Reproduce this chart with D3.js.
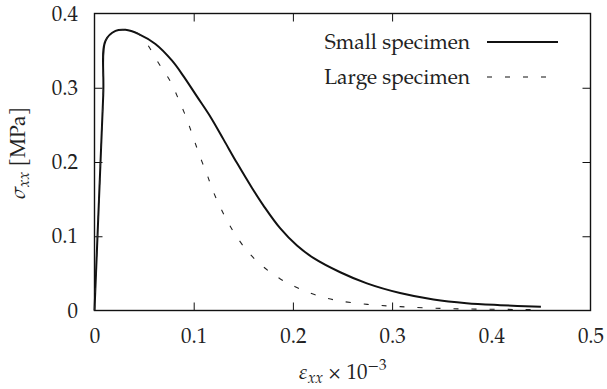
<!DOCTYPE html>
<html>
<head>
<meta charset="utf-8">
<script src="https://cdn.jsdelivr.net/npm/d3@7"></script>
<style>
  html, body { margin: 0; padding: 0; background: #fff; }
  svg { display: block; }
</style>
</head>
<body>
<div id="chart"></div>
<script>
// Strain (x 10^-3) and stress (MPa) samples for each specimen
const smallStrain = [0, 0.0088, 0.0111, 0.0212, 0.0312, 0.0446, 0.0614, 0.0782, 0.09, 0.1034, 0.1168, 0.1303, 0.1437, 0.1588, 0.1705, 0.1873, 0.2041, 0.221, 0.2477, 0.2746, 0.308, 0.3417, 0.375, 0.409, 0.45];
const smallStress = [0, 0.29, 0.3633, 0.3765, 0.378, 0.3723, 0.3589, 0.3364, 0.315, 0.288, 0.261, 0.2298, 0.1985, 0.165, 0.141, 0.1105, 0.0875, 0.0705, 0.0515, 0.0365, 0.0235, 0.0148, 0.0098, 0.0072, 0.005];

const largeStrain = [0, 0.0088, 0.0111, 0.0212, 0.0312, 0.0446, 0.053, 0.0647, 0.0765, 0.085, 0.0927, 0.0994, 0.106, 0.1135, 0.1201, 0.1336, 0.1453, 0.157, 0.1705, 0.1873, 0.204, 0.221, 0.2427, 0.275, 0.308, 0.358, 0.45];
const largeStress = [0, 0.29, 0.3633, 0.3765, 0.378, 0.3723, 0.359, 0.333, 0.3085, 0.2836, 0.259, 0.2338, 0.2085, 0.183, 0.159, 0.121, 0.0955, 0.0755, 0.0585, 0.0425, 0.031, 0.0218, 0.014, 0.0083, 0.0052, 0.0025, 0.0012];

const seriesNames = ["Small specimen", "Large specimen"];
const xTicks = [0, 0.1, 0.2, 0.3, 0.4, 0.5];
const yTicks = [0, 0.1, 0.2, 0.3, 0.4];

const W = 607, H = 389;
const plot = { left: 94.5, right: 590.5, top: 13.5, bottom: 310.5 };
const FONT = '"TeX Gyre Pagella", "URW Palladio L", "P052", "Palatino Linotype", Palatino, "Book Antiqua", "Noto Serif", "Liberation Serif", Tinos, "Times New Roman", "DejaVu Serif", "FreeSerif", serif';

const svg = d3.select("#chart").append("svg").attr("width", W).attr("height", H)
  .style("font-family", FONT);

const x = d3.scaleLinear().domain([0, 0.5]).range([plot.left, plot.right]);
const y = d3.scaleLinear().domain([0, 0.4]).range([plot.bottom, plot.top]);

const fmt = d => d === 0 ? "0" : d3.format(".1f")(d);
const tickLen = 8;
const fs = 21;

// Inward ticks on all four sides
const axisGroups = [
  svg.append("g").attr("transform", `translate(0,${plot.bottom})`).call(d3.axisBottom(x).tickValues(xTicks).tickFormat(fmt).tickSizeInner(-tickLen).tickSizeOuter(0).tickPadding(17.5)),
  svg.append("g").attr("transform", `translate(0,${plot.top})`).call(d3.axisTop(x).tickValues(xTicks).tickFormat("").tickSizeInner(-tickLen).tickSizeOuter(0)),
  svg.append("g").attr("transform", `translate(${plot.left},0)`).call(d3.axisLeft(y).tickValues(yTicks).tickFormat(fmt).tickSizeInner(-tickLen).tickSizeOuter(0).tickPadding(16.5)),
  svg.append("g").attr("transform", `translate(${plot.right},0)`).call(d3.axisRight(y).tickValues(yTicks).tickFormat("").tickSizeInner(-tickLen).tickSizeOuter(0))
];
axisGroups.forEach(g => {
  g.attr("font-family", null).attr("font-size", fs);
  g.select(".domain").remove();
  g.selectAll(".tick line").attr("stroke", "#111").attr("stroke-width", 1);
  g.selectAll(".tick text").attr("fill", "#222");
});
// keep the end ticks off the frame corners
axisGroups.forEach(g => g.selectAll(".tick").filter(d => d === 0 || d === 0.5 || d === 0.4).select("line").attr("stroke-opacity", 0));

// Frame
svg.append("rect")
  .attr("x", plot.left).attr("y", plot.top)
  .attr("width", plot.right - plot.left).attr("height", plot.bottom - plot.top)
  .attr("fill", "none").attr("stroke", "#111").attr("stroke-width", 1.4);

const line = d3.line().x(d => x(d[0])).y(d => y(d[1])).curve(d3.curveCatmullRom.alpha(0.5));

const smallData = d3.zip(smallStrain, smallStress);
const largeData = d3.zip(largeStrain, largeStress);

svg.append("path").datum(smallData).attr("d", line)
  .attr("fill", "none").attr("stroke", "#111").attr("stroke-width", 2);
svg.append("path").datum(largeData).attr("d", line)
  .attr("fill", "none").attr("stroke", "#222").attr("stroke-width", 1.1)
  .attr("stroke-dasharray", "5,13");

// Legend
const legend = [
  { name: seriesNames[0], y: 42, dash: null, w: 2 },
  { name: seriesNames[1], y: 77, dash: "5,13", w: 1.1 }
];
legend.forEach(l => {
  svg.append("text").attr("x", 470).attr("y", l.y).attr("dy", "0.35em")
    .attr("text-anchor", "end").attr("font-size", fs).attr("fill", "#222").text(l.name);
  svg.append("line").attr("x1", 487).attr("x2", 558).attr("y1", l.y).attr("y2", l.y)
    .attr("stroke", "#111").attr("stroke-width", l.w)
    .attr("stroke-dasharray", l.dash);
});

// Axis titles
const xt = svg.append("text").attr("x", (plot.left + plot.right) / 2).attr("y", 379)
  .attr("text-anchor", "middle").attr("font-size", fs).attr("fill", "#222");
xt.append("tspan").attr("font-style", "italic").text("ε");
xt.append("tspan").attr("font-style", "italic").attr("font-size", fs * 0.72).attr("dy", 3.5).text("xx");
xt.append("tspan").attr("dy", -3.5).text(" × 10");
xt.append("tspan").attr("font-size", fs * 0.72).attr("dy", -9).text("−3");

const yt = svg.append("text")
  .attr("transform", `translate(25,153) rotate(-90)`)
  .attr("text-anchor", "middle").attr("font-size", fs).attr("fill", "#222");
yt.append("tspan").attr("font-style", "italic").text("σ");
yt.append("tspan").attr("font-style", "italic").attr("font-size", fs * 0.72).attr("dy", 4).text("xx");
yt.append("tspan").attr("dy", -4).text(" [MPa]");
</script>
</body>
</html>
